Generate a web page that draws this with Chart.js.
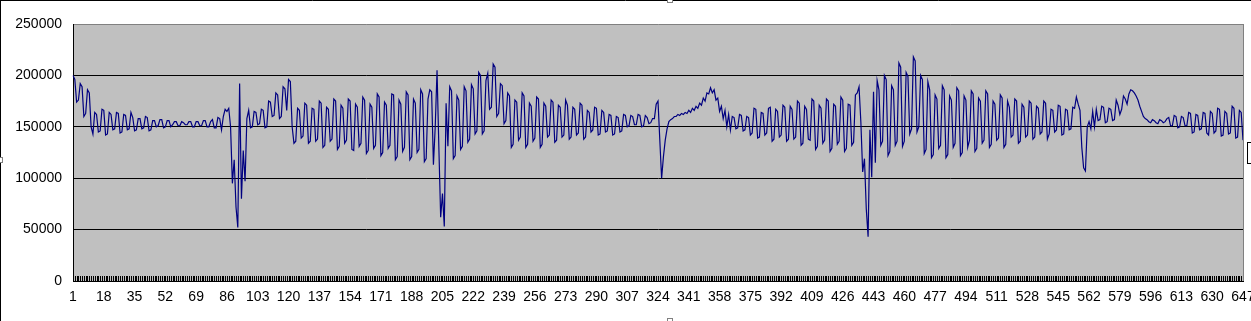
<!DOCTYPE html>
<html>
<head>
<meta charset="utf-8">
<script src="https://cdn.jsdelivr.net/npm/chart.js@4/dist/chart.umd.min.js"></script>
<style>
  html, body { margin: 0; padding: 0; background: #fff; }
  #wrap { width: 1251px; height: 321px; position: relative; }
</style>
</head>
<body>
<div id="wrap"><canvas id="chart"></canvas></div>
<script>
// series values in thousands (647 samples)
const seriesK = [
  200,196,174,176,192,189,160,163,186,183,150,
  143,164,162,145,146,167,166,142,143,164,162,
  147,148,164,163,144,145,162,161,147,148,164,
  159,146,147,158,158,148,149,160,159,146,147,
  156,156,150,151,157,157,149,150,156,156,150,
  152,155,155,151,151,155,154,152,152,155,155,
  150,150,155,155,151,151,156,156,150,150,155,
  157,149,149,159,158,147,
  160,167,165,168,150,95,118,72,52,192,80,127,97,158,
  166,149,150,165,164,152,153,167,166,149,150,
  175,174,160,161,183,181,158,160,189,187,166,
  196,194,150,
  134,136,168,166,139,141,173,171,134,136,168,
  167,136,138,175,173,130,132,169,167,136,138,
  177,175,128,131,171,168,134,137,177,175,128,
  127,172,169,131,134,179,176,124,127,172,169,
  129,132,182,179,122,125,174,171,129,132,182,
  181,118,121,176,172,126,130,184,181,118,121,
  177,173,125,128,186,182,116,119,177,
  186,184,113,150,205,130,62,85,53,173,
  131,189,185,119,122,180,176,128,131,189,185,
  135,138,191,187,143,146,203,200,143,146,195,
  202,167,169,211,208,160,163,192,190,153,156,
  183,180,130,133,176,174,137,140,183,180,130,
  133,173,170,136,139,179,177,130,133,173,170,
  140,142,176,174,135,137,171,169,140,142,176,
  171,138,140,169,167,142,144,173,171,138,140,
  166,164,145,147,169,168,142,143,166,164,145,
  146,162,161,142,143,160,159,145,146,162,161,
  150,151,161,160,152,152,162,161,150,151,161,
  159,153,154,158,
  158,172,175,137,100,121,137,148,155,157,
  158,160,160,162,161,163,162,164,163,166,164,168,166,170,168,173,
  171,178,175,183,182,188,183,186,176,178,165,170,158,166,150,162,
  147,160,159,148,149,162,161,146,147,160,159,
  142,144,168,167,139,140,164,163,142,144,168,
  169,136,138,167,165,140,142,171,169,136,138,
  170,167,138,140,175,173,132,134,170,167,138,
  137,177,175,128,131,171,168,134,137,177,175,
  126,129,172,170,133,136,179,176,126,129,172,
  171,132,135,181,
  183,189,155,106,119,70,43,147,101,184,115,195,
  186,132,136,200,196,122,126,190,186,132,136,
  212,208,131,136,203,199,143,148,218,214,145,150,200,196,124,128,194,
  186,120,123,181,177,129,132,190,186,120,123,
  180,176,130,134,188,185,122,125,180,176,130,
  137,185,182,126,129,178,175,134,137,185,182,
  130,133,175,172,137,139,181,178,130,133,175,
  169,140,142,177,175,134,136,172,169,140,142,
  175,173,138,140,170,168,143,145,175,173,138,
  143,167,166,145,147,171,170,142,143,167,166,
  147,148,169,168,
  179,172,166,130,110,107,150,155,148,165,150,
  167,156,157,170,169,154,155,168,167,156,157,
  176,171,162,167,180,177,172,182,186,185,183,180,176,170,165,160,
  158,157,155,154,157,156,154,153,157,156,154,155,158,
  159,151,151,161,160,149,150,160,159,151,151,
  164,163,144,145,162,161,147,148,164,163,144,
  142,165,163,144,146,168,167,141,142,165,163,
  143,144,170,168,139,140,166,164,137
];
const yTicks = [0, 50000, 100000, 150000, 200000, 250000];
const labelStep = 17;

const categories = seriesK.map((_, i) => String(i + 1));
const series = seriesK.map(v => v * 1000);

Chart.defaults.font.family = "'Liberation Sans', Arial, sans-serif";
Chart.defaults.font.size = 14;
Chart.defaults.color = '#000';

// plot background, inside category ticks and the frame bits around the chart
const excelFrame = {
    id: 'excelFrame',
    beforeDraw(chart) {
        const { ctx, chartArea: a } = chart;
        ctx.save();
        ctx.fillStyle = '#fff';
        ctx.fillRect(0, 0, chart.width, chart.height);
        ctx.fillStyle = '#c0c0c0';
        ctx.fillRect(a.left, a.top, a.right - a.left, a.bottom - a.top);
        ctx.restore();
    },
    afterDraw(chart) {
        const { ctx, chartArea: a, scales: { x } } = chart;
        ctx.save();
        ctx.lineWidth = 1;
        ctx.strokeStyle = '#000';
        ctx.beginPath();
        categories.forEach((_, i) => {
            const px = Math.round(x.getPixelForValue(i)) + 0.5;
            ctx.moveTo(px, a.bottom - 5);
            ctx.lineTo(px, a.bottom);
        });
        ctx.stroke();

        ctx.strokeStyle = '#808080';
        ctx.beginPath();
        ctx.moveTo(Math.round(a.right) + 0.5, a.top);
        ctx.lineTo(Math.round(a.right) + 0.5, a.bottom);
        ctx.stroke();

        // outer chart border (top + left)
        ctx.strokeStyle = '#000';
        ctx.beginPath();
        ctx.moveTo(0, 0.5);
        ctx.lineTo(chart.width, 0.5);
        ctx.moveTo(0.5, 0);
        ctx.lineTo(0.5, chart.height);
        ctx.stroke();

        // selection handles and clipped legend box
        ctx.fillStyle = '#fff';
        ctx.strokeStyle = '#808080';
        [[-3, 157], [667, -3], [667, 318]].forEach(([hx, hy]) => {
            ctx.fillRect(hx, hy, 6, 6);
            ctx.strokeRect(hx + 0.5, hy + 0.5, 5, 5);
        });
        ctx.strokeStyle = '#000';
        ctx.strokeRect(1247.5, 142.5, 10, 21);
        ctx.restore();
    }
};

new Chart(document.getElementById('chart'), {
    type: 'line',
    data: {
        labels: categories,
        datasets: [{
            data: series,
            borderColor: '#000080',
            borderWidth: 1.2,
            pointRadius: 0,
            tension: 0,
            fill: false
        }]
    },
    options: {
        responsive: true,
        maintainAspectRatio: false,
        animation: false,
        devicePixelRatio: 1,
        events: [],
        layout: { padding: { top: 24, right: 8, bottom: 0, left: 0 } },
        plugins: { legend: { display: false }, tooltip: { enabled: false } },
        scales: {
            x: {
                type: 'category',
                offset: false,
                grid: { display: false, drawTicks: false },
                border: { display: true, color: '#000', width: 1 },
                ticks: {
                    autoSkip: false,
                    maxRotation: 0,
                    minRotation: 0,
                    padding: 8,
                    callback: (v, i) => (i % labelStep === 0 ? categories[i] : '')
                },
                afterFit: s => { s.height = 40; s.paddingLeft = 0; s.paddingRight = 0; }
            },
            y: {
                min: 0,
                max: 250000,
                grid: {
                    drawTicks: false,
                    color: c => (c.tick && c.tick.value === 250000 ? '#808080' : '#000'),
                    lineWidth: 1
                },
                border: { display: true, color: '#000', width: 1 },
                ticks: { padding: 11, callback: v => String(v) },
                afterBuildTicks: s => { s.ticks = yTicks.map(v => ({ value: v })); },
                afterFit: s => { s.width = 73; }
            }
        }
    },
    plugins: [excelFrame]
});
</script>
</body>
</html>
